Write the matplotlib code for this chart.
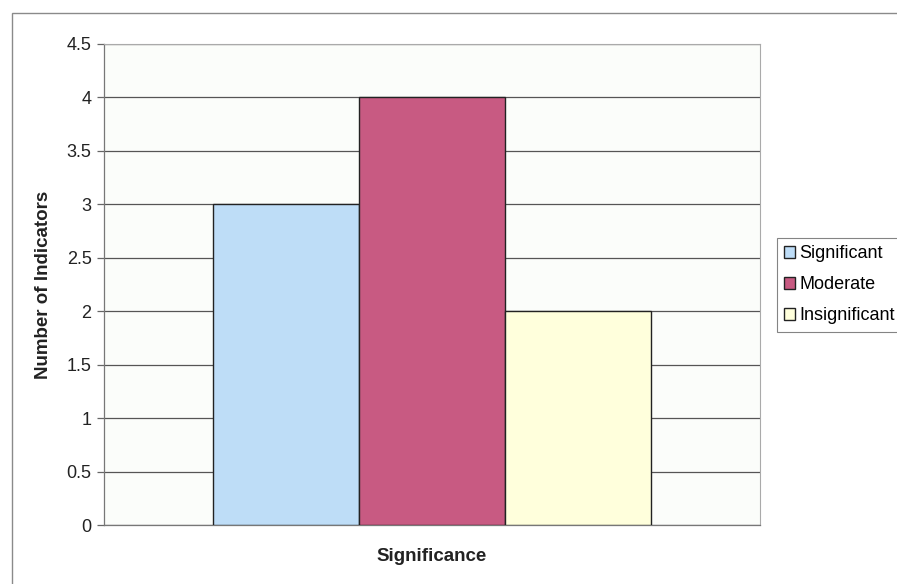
import matplotlib
matplotlib.use("Agg")
import matplotlib.pyplot as plt
from matplotlib.patches import Rectangle
from matplotlib.transforms import blended_transform_factory

plt.rcParams['font.family'] = ['Liberation Sans', 'DejaVu Sans']

series = ["Significant", "Moderate", "Insignificant"]
values = [3, 4, 2]
colors = ["#BEDDF7", "#C85A82", "#FFFFDC"]
y_ticks = [0, 0.5, 1, 1.5, 2, 2.5, 3, 3.5, 4, 4.5]
y_tick_labels = ["0", "0.5", "1", "1.5", "2", "2.5", "3", "3.5", "4", "4.5"]

fig = plt.figure(figsize=(8.97, 5.84), dpi=100)
fig.patch.set_facecolor("white")

# outer chart frame
fig.patches.append(Rectangle((12 / 897, -0.05), 1.2, 1 - 13 / 584 + 0.05,
                             transform=fig.transFigure, fill=False,
                             edgecolor="#8a8a8a", linewidth=1.0))

ax = fig.add_axes([104 / 897, 1 - 525 / 584, 656 / 897, 481 / 584])
ax.set_facecolor("#FBFDFA")

width = 146 / 656
offsets = [-width, 0, width]
for name, v, c, off in zip(series, values, colors, offsets):
    ax.bar(off, v, width=width, color=c, edgecolor="#222222",
           linewidth=1.0, label=name, zorder=3)

ax.set_xlim(-0.5, 0.5)
ax.set_ylim(0, 4.5)
ax.set_yticks(y_ticks)
ax.set_yticklabels(y_tick_labels, fontsize=13, color="#222222")
ax.set_xticks([])
ax.yaxis.grid(True, color="#555555", linewidth=0.9, zorder=0)
ax.tick_params(axis="y", length=5, width=0.9, color="#666666", pad=4)

for side in ["top", "right"]:
    ax.spines[side].set_color("#aaaaaa")
    ax.spines[side].set_linewidth(0.8)
for side in ["left", "bottom"]:
    ax.spines[side].set_color("#777777")
    ax.spines[side].set_linewidth(0.9)

ax.set_ylabel("Number of Indicators", fontsize=13.5, fontweight="bold",
              color="#222222")
ax.yaxis.set_label_coords(52 / 897, 0.5,
                          transform=blended_transform_factory(fig.transFigure,
                                                              ax.transAxes))
ax.set_xlabel("Significance", fontsize=13.5, fontweight="bold",
              color="#222222")
ax.xaxis.set_label_coords(0.5, 1 - 548 / 584,
                          transform=blended_transform_factory(ax.transAxes,
                                                              fig.transFigure))

leg = ax.legend(loc="upper left", bbox_to_anchor=(777 / 897, 1 - 238 / 584),
                bbox_transform=fig.transFigure, fontsize=13, frameon=True,
                fancybox=False, edgecolor="#666666", handlelength=0.6,
                handleheight=0.6, handletextpad=0.25, borderpad=0.4,
                labelspacing=0.78, borderaxespad=0)
leg.get_frame().set_linewidth(0.8)

fig.savefig("out.png", dpi=100, facecolor="white")
